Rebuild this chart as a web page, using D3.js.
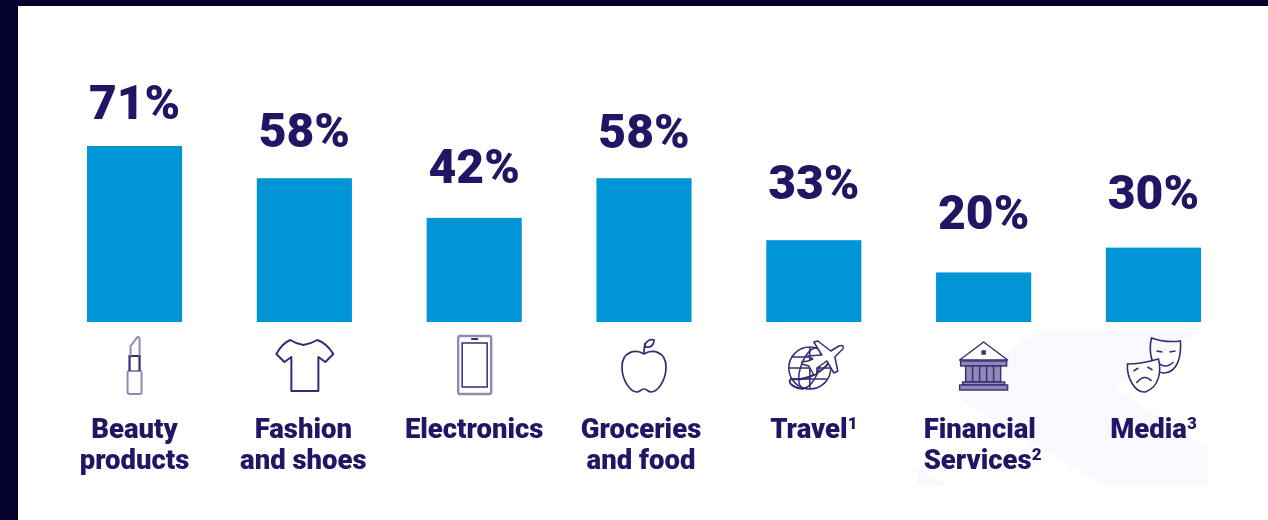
<!DOCTYPE html>
<html><head><meta charset="utf-8">
<script src="https://cdn.jsdelivr.net/npm/d3@7/dist/d3.min.js"></script>
<style>
html,body{margin:0;padding:0;background:#01012a;overflow:hidden}
svg{display:block;filter:blur(0.7px)}
</style></head><body><svg id="c" width="1268" height="520"></svg>
<script>
const categories=["Beauty products","Fashion and shoes","Electronics","Groceries and food","Travel","Financial Services","Media"];
const values=[71,58,42,58,33,20,30];
const labelLines=[["Beauty","products"],["Fashion","and shoes"],["Electronics"],["Groceries","and food"],["Travel"],["Financial","Services"],["Media"]];
const footnotes=["","","","","1","2","3"];
const valueLabelGap=[27,31,35,30,41,43,39];
const nameShift=[0,-1,0,-3,0,-60,0];
const nameAnchor=["middle","middle","middle","middle","middle","start","middle"];
const icons=["lipstick","shirt","phone","apple","globe","bank","masks"];

const navy="#352c75",ink="#1f1763",blue="#0095d6",lav="#8e8ab8";
const svg=d3.select("#c");
svg.append("rect").attr("width",1268).attr("height",520).attr("fill","#01012a");
svg.append("rect").attr("x",18).attr("y",6).attr("width",1250).attr("height",514).attr("fill","#fff");
svg.append("path").attr("fill","#f9f9fd").attr("d","M1038,331H1198L1113,387L1207,448V485H1103L960,400L960,384ZM918,468L947,485H918Z");

const x=d3.scaleBand().domain(categories).range([87,1201]).paddingInner(0.44).paddingOuter(0);
const y=d3.scaleLinear().domain([0,71]).range([322,146]);

svg.selectAll("rect.bar").data(categories).join("rect").attr("class","bar")
 .attr("x",d=>x(d)).attr("width",x.bandwidth())
 .attr("y",(d,i)=>y(values[i])).attr("height",(d,i)=>y(0)-y(values[i])).attr("fill",blue);

svg.selectAll("text.val").data(categories).join("text").attr("class","val")
 .attr("x",d=>x(d)+x.bandwidth()/2).attr("y",(d,i)=>y(values[i])-valueLabelGap[i])
 .attr("text-anchor","middle").attr("font-family","Roboto").attr("font-weight",900)
 .attr("font-size",48).attr("fill",ink).text((d,i)=>values[i]+"%");

const names=svg.selectAll("text.name").data(categories).join("text").attr("class","name")
 .attr("text-anchor",(d,i)=>nameAnchor[i]).attr("font-family","Roboto").attr("font-weight",900)
 .attr("font-size",27.5).attr("fill",ink);
names.each(function(d,i){
  const t=d3.select(this),cx=x(d)+x.bandwidth()/2+nameShift[i];
  labelLines[i].forEach((ln,k)=>{
    t.append("tspan").attr("x",cx).attr("y",437.5+k*31).text(ln);
    if(k===labelLines[i].length-1&&footnotes[i]) t.append("tspan").attr("dy",-9).attr("font-size",17).text(footnotes[i]);
  });
});

const draw={
 lipstick(g){
  g.append("path").attr("stroke",lav).attr("d","M-7,8a2,2 0 0 1 2,-2H5a2,2 0 0 1 2,2V27a2,2 0 0 1 -2,2H-5a2,2 0 0 1 -2,-2Z");
  g.append("path").attr("d","M-5,6V-9H5V6").attr("stroke-width",2.2);
  g.append("path").attr("stroke",lav).attr("d","M-4,-9V-19L3,-28Q5,-28 5,-26V-9");
 },
 shirt(g){
  g.append("path").attr("stroke-linejoin","round").attr("d","M-28,-11Q-22,-22 -14,-25Q-8,-21 -1,-20Q6,-21 13,-25Q22,-22 29,-11L21,-3L14,-8V26H-13V-8L-20,-3Z");
 },
 phone(g){
  g.append("rect").attr("x",-16).attr("y",-29).attr("width",33).attr("height",58).attr("rx",2).attr("stroke",lav).attr("stroke-width",2.4);
  g.append("rect").attr("x",-12).attr("y",-22).attr("width",25).attr("height",44).attr("stroke-width",1.5);
  g.append("path").attr("d","M-3,-26H4");
 },
 apple(g){
  g.attr("stroke-width",1.7);
  g.append("path").attr("stroke-linejoin","round").attr("d","M0,-11C-8,-16 -22,-14 -22,2C-22,15 -14,27 -7,27C-4,27 -3,24 0,24C3,24 4,27 7,27C14,27 22,15 22,2C22,-14 8,-16 0,-11Z");
  g.append("path").attr("d","M0,-11Q0,-17 1,-22");
  g.append("path").attr("d","M1,-18C1,-24 6,-26 10,-25C10,-20 7,-17 1,-18Z");
 },
 globe(g){
  g.attr("stroke-width",1.5);
  g.append("circle").attr("cx",-4).attr("cy",3).attr("r",21);
  g.append("ellipse").attr("cx",-4).attr("cy",3).attr("rx",9).attr("ry",21).attr("transform","rotate(20 -4 3)");
  g.append("path").attr("d","M-4,-18V24M-25,3H17M-22,-8H13M-22,14H13");
  g.append("path").attr("d","M19,-8C10,8 -8,16 -23,14C-27,18 -20,23 -10,24").attr("stroke-width",2);
  g.append("path").attr("fill","#fff").attr("stroke-linejoin","round")
   .attr("d","M-6,-9L8,-10L0,-23L4,-24L17,-14L25,-19Q31,-21 29,-16L21,-8L24,6L20,8L13,-4L3,3L3,9L0,10L-5,1L-12,-1L-12,-3L-6,-4L-1,-6Z");
 },
 bank(g){
  g.attr("stroke-width",1.4);
  g.append("path").attr("stroke-linejoin","round").attr("d","M0,-23L-24,-5H24Z");
  g.append("path").attr("d","M-1.5,-14h3v3h-3z").attr("fill",navy);
  g.append("rect").attr("x",-23).attr("y",-4).attr("width",46).attr("height",5).attr("fill",lav);
  [-18,-11,-4,3,10].forEach(c=>g.append("rect").attr("x",c).attr("y",1).attr("width",7).attr("height",16).attr("fill",lav));
  g.append("rect").attr("x",-21).attr("y",17).attr("width",42).attr("height",3).attr("fill",lav);
  g.append("rect").attr("x",-24).attr("y",20).attr("width",48).attr("height",5).attr("fill",lav);
 },
 masks(g){
  g.attr("stroke-width",1.6);
  g.append("path").attr("d","M-2,-27Q12,-22 27,-24C28,-8 24,7 11,8C1,9 -6,-10 -2,-27Z");
  g.append("path").attr("d","M3,-14L9,-13M16,-13L22,-14M4,-3Q12,5 20,-3");
  g.append("path").attr("fill","#fff").attr("d","M-26,-1Q-12,-1 5,-6C8,6 6,22 -8,27C-19,28 -27,12 -26,-1Z");
  g.append("path").attr("d","M-20,6L-15,3M-6,2L-1,5M-17,18Q-9,8 -2,16");
 }
};
const iconG=svg.selectAll("g.icon").data(categories).join("g").attr("class","icon")
 .attr("transform",d=>`translate(${x(d)+x.bandwidth()/2},365)`)
 .attr("fill","none").attr("stroke",navy).attr("stroke-width",2);
iconG.each(function(d,i){draw[icons[i]](d3.select(this));});
</script></body></html>
